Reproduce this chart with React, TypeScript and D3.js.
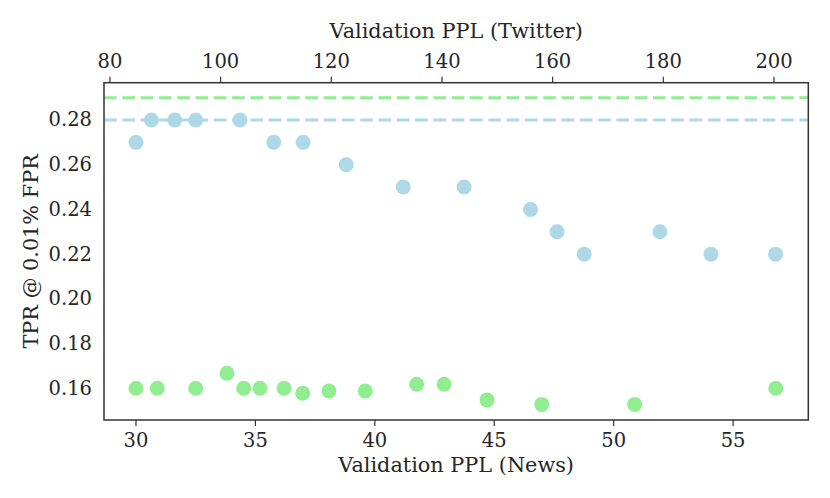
import React from "react";
import * as d3 from "d3";

const twitterPPL = [84.7, 87.5, 91.7, 95.5, 103.5, 109.6, 114.9, 122.7, 133.0, 144.0, 156.0, 160.8, 165.7, 179.4, 188.6, 200.3];
const twitterTPR = [0.27, 0.28, 0.28, 0.28, 0.28, 0.27, 0.27, 0.26, 0.25, 0.25, 0.24, 0.23, 0.22, 0.23, 0.22, 0.22];
const newsPPL = [30.0, 30.89, 32.5, 33.81, 34.51, 35.19, 36.2, 36.98, 38.08, 39.6, 41.75, 42.9, 44.7, 46.99, 50.88, 56.79];
const newsTPR = [0.16, 0.16, 0.16, 0.1667, 0.16, 0.16, 0.16, 0.1578, 0.1588, 0.1588, 0.1618, 0.1618, 0.1548, 0.1528, 0.1528, 0.16];
const twitterBaseline = 0.28;
const newsBaseline = 0.29;
const newsTicks = [30, 35, 40, 45, 50, 55];
const twitterTicks = [80, 100, 120, 140, 160, 180, 200];
const tprTicks = [0.16, 0.18, 0.2, 0.22, 0.24, 0.26, 0.28];

const W = 830, H = 498;
const L = 104, R = 808.3, T = 82.7, B = 420;
const BLUE = "#add8e6";
const GREEN = "#90ee90";
const TEXT = "#262626";
const FONT = "DejaVu Serif";
const TICK_FS = 19.5;
const LABEL_FS = 20.8;

export default function App() {
  const xNews = d3.scaleLinear().domain([28.66, 58.15]).range([L, R]);
  const xTw = d3.scaleLinear().domain([78.92, 206.2]).range([L, R]);
  const y = d3.scaleLinear().domain([0.14582, 0.29668]).range([B, T]);
  const fmt = d3.format(".2f");
  return (
    <svg width={W} height={H} style={{ position: "absolute", left: 0, top: 0, background: "#fff" }}>
      <rect x={0} y={0} width={W} height={H} fill="#fff" />
      <line x1={L} x2={R} y1={y(newsBaseline)} y2={y(newsBaseline)} stroke={GREEN} strokeWidth={3} strokeDasharray="12.7 5.6" />
      <line x1={L} x2={R} y1={y(twitterBaseline)} y2={y(twitterBaseline)} stroke={BLUE} strokeWidth={3} strokeDasharray="12.7 5.6" />
      {twitterPPL.map((v, i) => (
        <circle key={"t" + i} cx={xTw(v)} cy={y(twitterTPR[i])} r={7.5} fill={BLUE} />
      ))}
      {newsPPL.map((v, i) => (
        <circle key={"n" + i} cx={xNews(v)} cy={y(newsTPR[i])} r={7.5} fill={GREEN} />
      ))}
      <rect x={L} y={T} width={R - L} height={B - T} fill="none" stroke="#333" strokeWidth={1.5} />
      {newsTicks.map((t) => (
        <g key={"nb" + t}>
          <line x1={xNews(t)} x2={xNews(t)} y1={B} y2={B + 6} stroke="#333" strokeWidth={1.2} />
          <text x={xNews(t)} y={446.7} textAnchor="middle" fontFamily={FONT} fontSize={TICK_FS} fill={TEXT}>{t}</text>
        </g>
      ))}
      {twitterTicks.map((t) => (
        <g key={"tt" + t}>
          <line x1={xTw(t)} x2={xTw(t)} y1={T} y2={T - 6} stroke="#333" strokeWidth={1.2} />
          <text x={xTw(t)} y={68.3} textAnchor="middle" fontFamily={FONT} fontSize={TICK_FS} fill={TEXT}>{t}</text>
        </g>
      ))}
      {tprTicks.map((t) => (
        <text key={"y" + t} x={92} y={y(t)} textAnchor="end" dominantBaseline="central" fontFamily={FONT} fontSize={TICK_FS} fill={TEXT}>{fmt(t)}</text>
      ))}
      <text x={(L + R) / 2} y={471.7} textAnchor="middle" fontFamily={FONT} fontSize={LABEL_FS} fill={TEXT}>Validation PPL (News)</text>
      <text x={(L + R) / 2} y={38.3} textAnchor="middle" fontFamily={FONT} fontSize={LABEL_FS} fill={TEXT}>Validation PPL (Twitter)</text>
      <text transform={`translate(31,${(T + B) / 2}) rotate(-90)`} textAnchor="middle" dominantBaseline="central" fontFamily={FONT} fontSize={LABEL_FS} fill={TEXT}>TPR @ 0.01% FPR</text>
    </svg>
  );
}
